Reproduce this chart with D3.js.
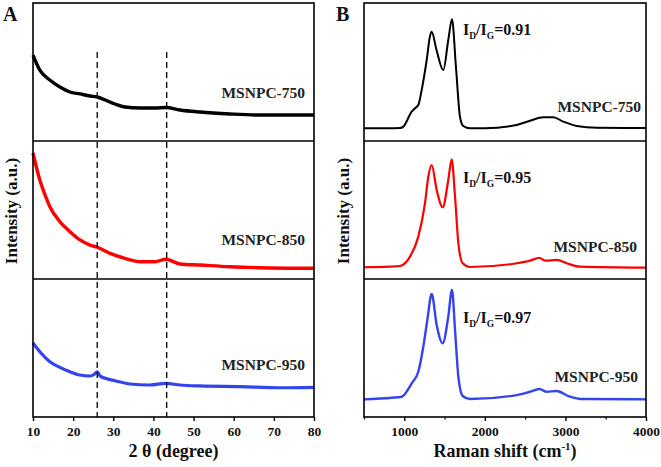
<!DOCTYPE html>
<html><head><meta charset="utf-8">
<script src="https://cdn.jsdelivr.net/npm/d3@7"></script>
<style>
body{margin:0;background:#fff;}
svg text{font-family:"Liberation Serif","Times New Roman",serif;font-weight:bold;}
</style></head>
<body><svg id="c" width="661" height="467"></svg>
<script>
// ---- data ----
const sampleNames = ["MSNPC-750", "MSNPC-850", "MSNPC-950"];
const sampleColors = ["#000000", "#ff0000", "#3344ee"];
const ratioLabels = ["0.91", "0.95", "0.97"];
const xrdTicks = [10, 20, 30, 40, 50, 60, 70, 80];
const ramanTicks = [1000, 2000, 3000, 4000];
const ramanMinorTicks = [500, 1500, 2500, 3500];
const dashedPositions = [26, 43.3];

const xrdAngle750 = [10, 11.7, 14.2, 16.7, 19.2, 21.7, 24.2, 26, 28, 30.4, 32.9, 36.7, 40.4, 43.1, 46.6, 51.6, 59, 66.5, 80];
const xrdInt750 = [62.3, 51.4, 44.2, 39.1, 35.5, 34.1, 32.6, 31.9, 29.7, 26.8, 24.6, 23.9, 23.9, 24.3, 22.5, 21.0, 19.6, 18.8, 18.8];
const xrdAngle850 = [10, 11.7, 13, 14.2, 16.7, 19.2, 21.7, 24.2, 26, 29.2, 32.9, 36.7, 40.4, 43.1, 46.6, 51.6, 59, 66.5, 80];
const xrdInt850 = [91.3, 71.7, 60.9, 52.4, 41.5, 34.3, 28.3, 24.6, 23.0, 18.6, 15.0, 12.5, 12.5, 14.3, 10.9, 10.1, 8.9, 8.2, 7.8];
const xrdAngle950 = [10, 11.7, 14.2, 16.7, 19.2, 21.7, 24.2, 25.2, 26, 26.7, 28, 30.4, 34.2, 39.1, 43.1, 46.6, 51.6, 61.6, 71.5, 80];
const xrdInt950 = [53.6, 47.3, 40.1, 36.0, 32.8, 30.4, 29.7, 30.8, 32.8, 29.7, 28.0, 26.3, 23.9, 23.2, 24.4, 23.2, 22.5, 22.0, 21.2, 21.5];

const ramanShift750 = [500, 800, 950, 988, 1092, 1133, 1174, 1216, 1278, 1319, 1340, 1400, 1484, 1546, 1592, 1641, 1691, 1732, 1815, 2000, 2395, 2560, 2726, 2850, 2974, 3140, 3388, 4000];
const ramanInt750 = [9.2, 9.2, 9.4, 10.4, 21.2, 23.7, 26.1, 37, 58.7, 76, 79.2, 66, 51.4, 73.2, 88.2, 53.9, 17.6, 10.9, 9.2, 9.2, 11.6, 14.7, 17.2, 17.2, 14.0, 10.9, 9.6, 9.4];
const ramanShift850 = [500, 823, 947, 1071, 1174, 1257, 1298, 1340, 1402, 1477, 1546, 1588, 1630, 1671, 1725, 1816, 2395, 2560, 2676, 2747, 2892, 3016, 3181, 4000];
const ramanInt850 = [8.5, 8.9, 9.4, 16.2, 30.7, 54.9, 74.1, 82.6, 64.5, 52.0, 71.7, 86.7, 59.6, 25.9, 11.4, 8.7, 11.4, 13.3, 15.4, 13.3, 13.8, 11.4, 8.9, 8.2];
const ramanShift950 = [500, 844, 968, 1092, 1174, 1236, 1286, 1340, 1402, 1477, 1546, 1592, 1630, 1671, 1725, 1816, 2395, 2560, 2676, 2768, 2892, 3036, 3222, 4000];
const ramanInt950 = [12.8, 14.0, 14.7, 24.4, 32.8, 50.9, 70.3, 89.1, 66.7, 53.4, 72.7, 92.0, 63.0, 29.2, 15.2, 13.0, 15.9, 18.3, 20.3, 18.3, 18.8, 15.2, 13.0, 12.8];

const xrdSeries = [[xrdAngle750, xrdInt750], [xrdAngle850, xrdInt850], [xrdAngle950, xrdInt950]];
const ramanSeries = [[ramanShift750, ramanInt750], [ramanShift850, ramanInt850], [ramanShift950, ramanInt950]];

// ---- layout ----
const svg = d3.select("#c");
const topY = 3, bottomY = 417, panelH = (bottomY - topY) / 3;
const panels = [0, 1, 2].map(i => [topY + panelH * (i + 1), topY + panelH * i]);

function drawPanel(opts) {
  const {x0, x1, domain, ticks, minor, series, strokeW, labelPos, title, letter, letterX, ylabX, extra} = opts;
  const x = d3.scaleLinear().domain(domain).range([x0, x1]);
  const g = svg.append("g");
  series.forEach((s, i) => {
    const y = d3.scaleLinear().domain([0, 100]).range(panels[i]);
    const pts = s[0].map((v, k) => [v, s[1][k]]);
    const line = d3.line().x(d => x(d[0])).y(d => y(d[1])).curve(d3.curveMonotoneX);
    g.append("path").datum(pts).attr("d", line).attr("fill", "none")
      .attr("stroke", sampleColors[i]).attr("stroke-width", strokeW[i]).attr("stroke-linejoin", "round");
    g.append("text").attr("x", labelPos[i][0]).attr("y", labelPos[i][1]).attr("text-anchor", "end")
      .attr("font-size", 15.5).attr("fill", "#222").text(sampleNames[i]);
  });
  if (extra) extra(g, x);
  g.append("rect").attr("x", x0).attr("y", topY).attr("width", x1 - x0).attr("height", bottomY - topY)
    .attr("fill", "none").attr("stroke", "#000").attr("stroke-width", 1.6);
  [1, 2].forEach(i => g.append("line").attr("x1", x0).attr("x2", x1)
    .attr("y1", topY + panelH * i).attr("y2", topY + panelH * i).attr("stroke", "#000").attr("stroke-width", 1.4));
  const ax = svg.append("g").attr("transform", `translate(0,${bottomY})`)
    .call(d3.axisBottom(x).tickValues(ticks).tickSize(4).tickPadding(5).tickFormat(d3.format("d")));
  ax.select(".domain").remove();
  ax.selectAll("line").attr("stroke", "#000").attr("stroke-width", 1.4);
  ax.selectAll("text").attr("font-size", 13.5).attr("fill", "#111")
    .style("font-family", '"Liberation Serif",serif').style("font-weight", "bold");
  if (minor) {
    const mx = svg.append("g").attr("transform", `translate(0,${bottomY})`)
      .call(d3.axisBottom(x).tickValues(minor).tickSize(2.5).tickFormat(""));
    mx.select(".domain").remove();
    mx.selectAll("line").attr("stroke", "#000").attr("stroke-width", 1.2);
  }
  const t = svg.append("text").attr("x", (x0 + x1) / 2).attr("y", 457).attr("text-anchor", "middle")
    .attr("font-size", 18).attr("fill", "#111");
  title(t);
  svg.append("text").attr("transform", `translate(${ylabX},211) rotate(-90)`)
    .attr("text-anchor", "middle").attr("font-size", 17).attr("fill", "#111").text("Intensity (a.u.)");
  svg.append("text").attr("x", letterX).attr("y", 21).attr("font-size", 20).attr("fill", "#111").text(letter);
}

drawPanel({
  x0: 33, x1: 314, domain: [10, 80], ticks: xrdTicks, minor: null,
  series: xrdSeries, strokeW: [3.4, 3.4, 3.2],
  labelPos: [[305, 98], [305, 245], [305, 370]],
  letter: "A", letterX: 3, ylabX: 17,
  title: t => { t.text("2 θ (degree)"); },
  extra: (g, x) => {
    dashedPositions.forEach(p => g.append("line").attr("x1", x(p)).attr("x2", x(p))
      .attr("y1", 52).attr("y2", bottomY).attr("stroke", "#111").attr("stroke-width", 1.4)
      .attr("stroke-dasharray", "6,4"));
  }
});

drawPanel({
  x0: 364, x1: 646, domain: [500, 4000], ticks: ramanTicks, minor: ramanMinorTicks,
  series: ramanSeries, strokeW: [2, 2.2, 2.4],
  labelPos: [[641, 112], [637, 252], [638, 382]],
  letter: "B", letterX: 336, ylabX: 349,
  title: t => {
    t.append("tspan").text("Raman shift (cm");
    t.append("tspan").attr("font-size", 11).attr("dy", -7).text("-1");
    t.append("tspan").attr("dy", 7).text(")");
  },
  extra: (g, x) => {
    const ys = [35, 183, 323];
    ratioLabels.forEach((r, i) => {
      const t = g.append("text").attr("x", 463).attr("y", ys[i]).attr("font-size", 16).attr("fill", "#111");
      t.append("tspan").text("I");
      t.append("tspan").attr("font-size", 9.5).attr("dy", 4).text("D");
      t.append("tspan").attr("dy", -4).text("/I");
      t.append("tspan").attr("font-size", 9.5).attr("dy", 4).text("G");
      t.append("tspan").attr("dy", -4).text("=" + r);
    });
  }
});
</script></body></html>
